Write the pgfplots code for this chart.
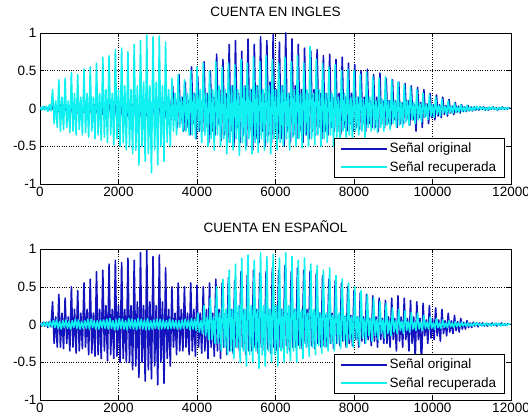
\documentclass[border=0pt]{standalone}
\usepackage{fontspec}
\setmainfont{Liberation Sans}
\usepackage{pgfplots}
\pgfplotsset{compat=1.18}

\definecolor{sblue}{RGB}{20,20,190}
\definecolor{scyan}{RGB}{15,240,240}

\pgfplotsset{
  matlab/.style={
    scale only axis, width=471bp, height=151bp,
    xmin=0, xmax=12000, ymin=-1, ymax=1,
    xtick={0,2000,4000,6000,8000,10000,12000},
    ytick={-1,-0.5,0,0.5,1},
    scaled x ticks=false,
    /pgf/number format/1000 sep={},
    /pgf/number format/assume math mode=true,
    tick align=inside, tick pos=both,
    xticklabel pos=lower, yticklabel pos=left,
    major tick length=4bp,
    grid=major, grid style={black, dotted, line width=0.5bp},
    axis line style={black, line width=0.6bp},
    tick style={black, line width=0.5bp},
    ticklabel style={font=\fontsize{13.5bp}{16bp}\selectfont},
    title style={font=\fontsize{13.5bp}{16bp}\selectfont, anchor=base, yshift=11bp},
    legend style={at={(1,0)}, anchor=south east, xshift=-6.5bp, yshift=6bp,
      font=\fontsize{13.5bp}{16bp}\selectfont, draw=black, line width=0.6bp,
      inner xsep=6bp, inner ysep=3bp, row sep=3bp},
    legend cell align=left,
    legend image code/.code={\draw[#1, line width=1.4bp] (0bp,0bp) -- (46bp,0bp);},
    every axis plot/.append style={line width=1.6bp, line join=round, mark=none},
  }
}

\begin{document}
\begin{tikzpicture}[x=1bp,y=1bp]
\useasboundingbox (0,0) rectangle (528,418);

% ---------- top: CUENTA EN INGLES ----------
\begin{axis}[matlab, at={(40bp,234bp)}, anchor=south west, title={CUENTA EN INGLES}]
\addplot[sblue] coordinates {
(20,0.01) (60,-0.01) (100,0.02) (140,-0.01)
(180,0.01) (220,-0.02) (260,0.01) (300,-0.01)
(340,0.04) (380,-0.05) (420,0.03) (460,-0.04)
(500,0.06) (540,-0.04) (580,0.05) (620,-0.05)
(660,0.05) (700,-0.06) (740,0.03) (780,-0.05)
(820,0.07) (860,-0.05) (900,0.04) (940,-0.06)
(980,0.06) (1020,-0.07) (1060,0.03) (1100,-0.05)
(1140,0.08) (1180,-0.06) (1220,0.04) (1260,-0.07)
(1300,0.07) (1340,-0.08) (1380,0.05) (1420,-0.06)
(1460,0.09) (1500,-0.07) (1540,0.04) (1580,-0.08)
(1620,0.08) (1660,-0.09) (1700,0.05) (1740,-0.07)
(1780,0.1) (1820,-0.08) (1860,0.04) (1900,-0.09)
(1940,0.09) (1980,-0.1) (2020,0.06) (2060,-0.08)
(2100,0.11) (2140,-0.09) (2180,0.05) (2220,-0.1)
(2260,0.1) (2300,-0.12) (2340,0.06) (2380,-0.09)
(2420,0.12) (2460,-0.1) (2500,0.05) (2540,-0.11)
(2580,0.11) (2620,-0.12) (2660,0.07) (2700,-0.1)
(2740,0.13) (2780,-0.11) (2820,0.06) (2860,-0.12)
(2900,0.12) (2940,-0.13) (2980,0.07) (3020,-0.1)
(3060,0.14) (3100,-0.12) (3140,0.08) (3180,-0.13)
(3220,0.18) (3260,-0.1) (3300,0.12) (3340,-0.15)
(3380,0.3) (3420,-0.15) (3460,0.1) (3500,-0.25)
(3540,0.45) (3580,-0.2) (3620,0.15) (3660,-0.3)
(3700,0.35) (3740,-0.25) (3780,0.1) (3820,-0.35)
(3860,0.55) (3900,-0.2) (3940,0.2) (3980,-0.4)
(4020,0.42) (4060,-0.3) (4100,0.1) (4140,-0.3)
(4180,0.62) (4220,-0.25) (4260,0.2) (4300,-0.45)
(4340,0.5) (4380,-0.3) (4420,0.15) (4460,-0.35)
(4500,0.72) (4540,-0.2) (4580,0.25) (4620,-0.42)
(4660,0.65) (4700,-0.35) (4740,0.2) (4780,-0.45)
(4820,0.85) (4860,-0.3) (4900,0.3) (4940,-0.5)
(4980,0.9) (5020,-0.25) (5060,0.2) (5100,-0.45)
(5140,0.76) (5180,-0.35) (5220,0.3) (5260,-0.5)
(5300,0.92) (5340,-0.3) (5380,0.25) (5420,-0.55)
(5460,0.85) (5500,-0.4) (5540,0.3) (5580,-0.45)
(5620,0.95) (5660,-0.3) (5700,0.2) (5740,-0.5)
(5780,0.9) (5820,-0.35) (5860,0.35) (5900,-0.45)
(5940,0.98) (5980,-0.3) (6020,0.25) (6060,-0.4)
(6100,0.88) (6140,-0.4) (6180,0.3) (6220,-0.5)
(6260,1.0) (6300,-0.3) (6340,0.2) (6380,-0.45)
(6420,0.92) (6460,-0.35) (6500,0.3) (6540,-0.4)
(6580,0.85) (6620,-0.3) (6660,0.25) (6700,-0.45)
(6740,0.8) (6780,-0.35) (6820,0.2) (6860,-0.4)
(6900,0.76) (6940,-0.3) (6980,0.25) (7020,-0.35)
(7060,0.78) (7100,-0.25) (7140,0.2) (7180,-0.4)
(7220,0.7) (7260,-0.3) (7300,0.2) (7340,-0.35)
(7380,0.72) (7420,-0.25) (7460,0.15) (7500,-0.3)
(7540,0.65) (7580,-0.3) (7620,0.2) (7660,-0.35)
(7700,0.68) (7740,-0.25) (7780,0.15) (7820,-0.3)
(7860,0.6) (7900,-0.2) (7940,0.2) (7980,-0.3)
(8020,0.58) (8060,-0.25) (8100,0.15) (8140,-0.28)
(8180,0.5) (8220,-0.2) (8260,0.15) (8300,-0.3)
(8340,0.52) (8380,-0.2) (8420,0.1) (8460,-0.25)
(8500,0.45) (8540,-0.25) (8580,0.15) (8620,-0.3)
(8660,0.47) (8700,-0.2) (8740,0.1) (8780,-0.25)
(8820,0.4) (8860,-0.2) (8900,0.1) (8940,-0.22)
(8980,0.38) (9020,-0.15) (9060,0.1) (9100,-0.25)
(9140,0.35) (9180,-0.2) (9220,0.08) (9260,-0.2)
(9300,0.33) (9340,-0.15) (9380,0.1) (9420,-0.22)
(9460,0.3) (9500,-0.15) (9540,0.05) (9580,-0.3)
(9620,0.28) (9660,-0.12) (9700,0.08) (9740,-0.25)
(9780,0.25) (9820,-0.1) (9860,0.06) (9900,-0.2)
(9940,0.2) (9980,-0.12) (10020,0.05) (10060,-0.15)
(10100,0.18) (10140,-0.1) (10180,0.05) (10220,-0.12)
(10260,0.15) (10300,-0.08) (10340,0.04) (10380,-0.1)
(10420,0.12) (10460,-0.06) (10500,0.03) (10540,-0.08)
(10580,0.08) (10620,-0.05) (10660,0.03) (10700,-0.06)
(10740,0.05) (10780,-0.04) (10820,0.02) (10860,-0.04)
(10900,0.04) (10940,-0.03) (10980,0.02) (11020,-0.03)
(11060,0.02) (11100,-0.02) (11140,0.01) (11180,-0.02)
(11220,0.02) (11260,-0.01) (11300,0.02) (11340,-0.02)
(11380,0.01) (11420,-0.02) (11460,0.01) (11500,-0.01)
(11540,0.02) (11580,-0.01) (11620,0.01) (11660,-0.02)
(11700,0.01) (11740,-0.01) (11780,0.02) (11820,-0.01)
(11860,0.01) (11900,-0.01) (11940,0.01) (11980,0)
};
\addplot[scyan] coordinates {
(0,0.02) (40,-0.02) (80,0.03) (120,-0.02)
(160,0.03) (200,-0.04) (240,0.05) (280,-0.03)
(320,0.25) (360,-0.2) (400,0.1) (440,-0.25)
(480,0.38) (520,-0.3) (560,0.15) (600,-0.28)
(640,0.4) (680,-0.25) (720,0.1) (760,-0.32)
(800,0.48) (840,-0.3) (880,0.2) (920,-0.35)
(960,0.45) (1000,-0.28) (1040,0.15) (1080,-0.35)
(1120,0.52) (1160,-0.32) (1200,0.2) (1240,-0.38)
(1280,0.55) (1320,-0.3) (1360,0.15) (1400,-0.4)
(1440,0.6) (1480,-0.35) (1520,0.2) (1560,-0.42)
(1600,0.68) (1640,-0.38) (1680,0.25) (1720,-0.45)
(1760,0.7) (1800,-0.35) (1840,0.2) (1880,-0.48)
(1920,0.78) (1960,-0.4) (2000,0.25) (2040,-0.5)
(2080,0.8) (2120,-0.45) (2160,0.3) (2200,-0.55)
(2240,0.75) (2280,-0.5) (2320,0.25) (2360,-0.6)
(2400,0.85) (2440,-0.55) (2480,0.3) (2520,-0.75)
(2560,0.9) (2600,-0.5) (2640,0.35) (2680,-0.7)
(2720,0.97) (2760,-0.6) (2800,0.3) (2840,-0.85)
(2880,0.95) (2920,-0.55) (2960,0.35) (3000,-0.75)
(3040,0.96) (3080,-0.5) (3120,0.3) (3160,-0.7)
(3200,0.88) (3240,-0.45) (3280,0.25) (3320,-0.5)
(3360,0.4) (3400,-0.3) (3440,0.2) (3480,-0.35)
(3520,0.45) (3560,-0.25) (3600,0.15) (3640,-0.3)
(3680,0.38) (3720,-0.3) (3760,0.2) (3800,-0.35)
(3840,0.5) (3880,-0.35) (3920,0.2) (3960,-0.4)
(4000,0.55) (4040,-0.3) (4080,0.25) (4120,-0.45)
(4160,0.6) (4200,-0.35) (4240,0.2) (4280,-0.5)
(4320,0.5) (4360,-0.4) (4400,0.25) (4440,-0.55)
(4480,0.62) (4520,-0.35) (4560,0.3) (4600,-0.5)
(4640,0.55) (4680,-0.4) (4720,0.25) (4760,-0.6)
(4800,0.6) (4840,-0.45) (4880,0.3) (4920,-0.55)
(4960,0.58) (5000,-0.4) (5040,0.25) (5080,-0.62)
(5120,0.65) (5160,-0.45) (5200,0.3) (5240,-0.55)
(5280,0.6) (5320,-0.4) (5360,0.25) (5400,-0.6)
(5440,0.68) (5480,-0.45) (5520,0.3) (5560,-0.58)
(5600,0.62) (5640,-0.4) (5680,0.25) (5720,-0.55)
(5760,0.7) (5800,-0.45) (5840,0.3) (5880,-0.6)
(5920,0.65) (5960,-0.4) (6000,0.25) (6040,-0.55)
(6080,0.6) (6120,-0.45) (6160,0.3) (6200,-0.5)
(6240,0.68) (6280,-0.4) (6320,0.2) (6360,-0.55)
(6400,0.62) (6440,-0.38) (6480,0.25) (6520,-0.5)
(6560,0.7) (6600,-0.4) (6640,0.2) (6680,-0.52)
(6720,0.6) (6760,-0.35) (6800,0.25) (6840,-0.5)
(6880,0.82) (6920,-0.4) (6960,0.2) (7000,-0.48)
(7040,0.65) (7080,-0.35) (7120,0.25) (7160,-0.5)
(7200,0.6) (7240,-0.4) (7280,0.2) (7320,-0.45)
(7360,0.55) (7400,-0.35) (7440,0.2) (7480,-0.5)
(7520,0.58) (7560,-0.38) (7600,0.15) (7640,-0.45)
(7680,0.5) (7720,-0.3) (7760,0.2) (7800,-0.4)
(7840,0.52) (7880,-0.35) (7920,0.15) (7960,-0.42)
(8000,0.5) (8040,-0.3) (8080,0.15) (8120,-0.35)
(8160,0.45) (8200,-0.3) (8240,0.12) (8280,-0.38)
(8320,0.48) (8360,-0.25) (8400,0.15) (8440,-0.3)
(8480,0.42) (8520,-0.28) (8560,0.1) (8600,-0.32)
(8640,0.4) (8680,-0.25) (8720,0.12) (8760,-0.3)
(8800,0.42) (8840,-0.22) (8880,0.1) (8920,-0.28)
(8960,0.38) (9000,-0.2) (9040,0.1) (9080,-0.25)
(9120,0.35) (9160,-0.22) (9200,0.08) (9240,-0.25)
(9280,0.32) (9320,-0.18) (9360,0.1) (9400,-0.22)
(9440,0.28) (9480,-0.15) (9520,0.08) (9560,-0.2)
(9600,0.25) (9640,-0.15) (9680,0.06) (9720,-0.18)
(9760,0.2) (9800,-0.12) (9840,0.05) (9880,-0.15)
(9920,0.18) (9960,-0.1) (10000,0.05) (10040,-0.12)
(10080,0.15) (10120,-0.08) (10160,0.04) (10200,-0.1)
(10240,0.12) (10280,-0.06) (10320,0.03) (10360,-0.08)
(10400,0.1) (10440,-0.06) (10480,0.03) (10520,-0.06)
(10560,0.07) (10600,-0.05) (10640,0.02) (10680,-0.05)
(10720,0.05) (10760,-0.04) (10800,0.02) (10840,-0.04)
(10880,0.04) (10920,-0.03) (10960,0.02) (11000,-0.03)
(11040,0.02) (11080,-0.02) (11120,0.03) (11160,-0.01)
(11200,0.02) (11240,-0.01) (11280,0.02) (11320,-0.02)
(11360,0.01) (11400,-0.02) (11440,0.02) (11480,-0.01)
(11520,0.02) (11560,-0.01) (11600,0.01) (11640,-0.02)
(11680,0.01) (11720,-0.01) (11760,0.02) (11800,-0.01)
(11840,0.01) (11880,-0.01) (11920,0.01) (11960,0)
};
\legend{Señal original, Señal recuperada}
\end{axis}

% ---------- bottom: CUENTA EN ESPAÑOL ----------
\begin{axis}[matlab, at={(40bp,18bp)}, anchor=south west, title={CUENTA EN ESPAÑOL}]
\addplot[sblue] coordinates {
(0,0.02) (40,-0.02) (80,0.03) (120,-0.02)
(160,0.03) (200,-0.04) (240,0.04) (280,-0.03)
(320,0.3) (360,-0.25) (400,0.1) (440,-0.3)
(480,0.4) (520,-0.3) (560,0.15) (600,-0.32)
(640,0.35) (680,-0.25) (720,0.1) (760,-0.35)
(800,0.5) (840,-0.3) (880,0.2) (920,-0.38)
(960,0.45) (1000,-0.35) (1040,0.15) (1080,-0.32)
(1120,0.55) (1160,-0.3) (1200,0.2) (1240,-0.4)
(1280,0.6) (1320,-0.38) (1360,0.15) (1400,-0.42)
(1440,0.7) (1480,-0.4) (1520,0.2) (1560,-0.45)
(1600,0.72) (1640,-0.35) (1680,0.25) (1720,-0.48)
(1760,0.8) (1800,-0.4) (1840,0.2) (1880,-0.45)
(1920,0.85) (1960,-0.42) (2000,0.25) (2040,-0.5)
(2080,0.82) (2120,-0.45) (2160,0.2) (2200,-0.5)
(2240,0.88) (2280,-0.5) (2320,0.25) (2360,-0.6)
(2400,0.85) (2440,-0.55) (2480,0.3) (2520,-0.7)
(2560,0.95) (2600,-0.5) (2640,0.25) (2680,-0.75)
(2720,0.98) (2760,-0.6) (2800,0.3) (2840,-0.72)
(2880,0.9) (2920,-0.55) (2960,0.25) (3000,-0.8)
(3040,0.92) (3080,-0.5) (3120,0.3) (3160,-0.78)
(3200,0.75) (3240,-0.45) (3280,0.2) (3320,-0.55)
(3360,0.5) (3400,-0.3) (3440,0.15) (3480,-0.4)
(3520,0.55) (3560,-0.35) (3600,0.2) (3640,-0.35)
(3680,0.5) (3720,-0.3) (3760,0.15) (3800,-0.4)
(3840,0.55) (3880,-0.35) (3920,0.2) (3960,-0.42)
(4000,0.52) (4040,-0.3) (4080,0.15) (4120,-0.38)
(4160,0.5) (4200,-0.35) (4240,0.2) (4280,-0.45)
(4320,0.55) (4360,-0.3) (4400,0.15) (4440,-0.42)
(4480,0.6) (4520,-0.35) (4560,0.2) (4600,-0.45)
(4640,0.55) (4680,-0.3) (4720,0.15) (4760,-0.4)
(4800,0.62) (4840,-0.35) (4880,0.2) (4920,-0.38)
(4960,0.58) (5000,-0.3) (5040,0.15) (5080,-0.35)
(5120,0.7) (5160,-0.3) (5200,0.2) (5240,-0.4)
(5280,0.65) (5320,-0.35) (5360,0.15) (5400,-0.35)
(5440,0.72) (5480,-0.3) (5520,0.2) (5560,-0.38)
(5600,0.68) (5640,-0.3) (5680,0.15) (5720,-0.35)
(5760,0.7) (5800,-0.32) (5840,0.2) (5880,-0.38)
(5920,0.75) (5960,-0.3) (6000,0.15) (6040,-0.35)
(6080,0.72) (6120,-0.3) (6160,0.2) (6200,-0.32)
(6240,0.78) (6280,-0.28) (6320,0.15) (6360,-0.35)
(6400,0.7) (6440,-0.3) (6480,0.2) (6520,-0.3)
(6560,0.75) (6600,-0.28) (6640,0.15) (6680,-0.32)
(6720,0.72) (6760,-0.25) (6800,0.2) (6840,-0.3)
(6880,0.7) (6920,-0.28) (6960,0.15) (7000,-0.32)
(7040,0.68) (7080,-0.25) (7120,0.15) (7160,-0.3)
(7200,0.65) (7240,-0.28) (7280,0.12) (7320,-0.3)
(7360,0.6) (7400,-0.25) (7440,0.15) (7480,-0.32)
(7520,0.58) (7560,-0.25) (7600,0.12) (7640,-0.28)
(7680,0.55) (7720,-0.22) (7760,0.1) (7800,-0.3)
(7840,0.5) (7880,-0.25) (7920,0.12) (7960,-0.28)
(8000,0.45) (8040,-0.2) (8080,0.1) (8120,-0.3)
(8160,0.42) (8200,-0.22) (8240,0.1) (8280,-0.25)
(8320,0.4) (8360,-0.2) (8400,0.08) (8440,-0.28)
(8480,0.38) (8520,-0.22) (8560,0.1) (8600,-0.3)
(8640,0.35) (8680,-0.2) (8720,0.08) (8760,-0.25)
(8800,0.32) (8840,-0.25) (8880,0.1) (8920,-0.3)
(8960,0.35) (9000,-0.2) (9040,0.08) (9080,-0.35)
(9120,0.38) (9160,-0.22) (9200,0.1) (9240,-0.3)
(9280,0.35) (9320,-0.2) (9360,0.08) (9400,-0.35)
(9440,0.32) (9480,-0.25) (9520,0.1) (9560,-0.45)
(9600,0.3) (9640,-0.2) (9680,0.08) (9720,-0.55)
(9760,0.28) (9800,-0.15) (9840,0.06) (9880,-0.25)
(9920,0.25) (9960,-0.18) (10000,0.08) (10040,-0.2)
(10080,0.22) (10120,-0.15) (10160,0.06) (10200,-0.22)
(10240,0.2) (10280,-0.12) (10320,0.05) (10360,-0.15)
(10400,0.15) (10440,-0.1) (10480,0.05) (10520,-0.12)
(10560,0.12) (10600,-0.08) (10640,0.04) (10680,-0.1)
(10720,0.08) (10760,-0.06) (10800,0.03) (10840,-0.06)
(10880,0.05) (10920,-0.04) (10960,0.02) (11000,-0.04)
(11040,0.03) (11080,-0.02) (11120,0.02) (11160,-0.03)
(11200,0.02) (11240,-0.01) (11280,0.02) (11320,-0.02)
(11360,0.01) (11400,-0.02) (11440,0.01) (11480,-0.01)
(11520,0.02) (11560,-0.01) (11600,0.01) (11640,-0.02)
(11680,0.01) (11720,-0.01) (11760,0.02) (11800,-0.01)
(11840,0.01) (11880,-0.01) (11920,0.01) (11960,0)
};
\addplot[scyan] coordinates {
(20,0.02) (60,-0.02) (100,0.03) (140,-0.02)
(180,0.03) (220,-0.03) (260,0.04) (300,-0.03)
(340,0.05) (380,-0.04) (420,0.06) (460,-0.05)
(500,0.04) (540,-0.06) (580,0.05) (620,-0.04)
(660,0.06) (700,-0.05) (740,0.04) (780,-0.06)
(820,0.05) (860,-0.04) (900,0.07) (940,-0.05)
(980,0.06) (1020,-0.06) (1060,0.04) (1100,-0.05)
(1140,0.05) (1180,-0.05) (1220,0.07) (1260,-0.06)
(1300,0.07) (1340,-0.04) (1380,0.05) (1420,-0.06)
(1460,0.05) (1500,-0.06) (1540,0.06) (1580,-0.04)
(1620,0.06) (1660,-0.05) (1700,0.07) (1740,-0.06)
(1780,0.08) (1820,-0.05) (1860,0.05) (1900,-0.07)
(1940,0.06) (1980,-0.07) (2020,0.08) (2060,-0.05)
(2100,0.07) (2140,-0.06) (2180,0.05) (2220,-0.07)
(2260,0.08) (2300,-0.05) (2340,0.07) (2380,-0.06)
(2420,0.06) (2460,-0.07) (2500,0.08) (2540,-0.05)
(2580,0.07) (2620,-0.06) (2660,0.06) (2700,-0.07)
(2740,0.08) (2780,-0.07) (2820,0.05) (2860,-0.06)
(2900,0.06) (2940,-0.05) (2980,0.07) (3020,-0.06)
(3060,0.07) (3100,-0.06) (3140,0.06) (3180,-0.05)
(3220,0.05) (3260,-0.06) (3300,0.07) (3340,-0.05)
(3380,0.06) (3420,-0.05) (3460,0.05) (3500,-0.06)
(3540,0.05) (3580,-0.06) (3620,0.06) (3660,-0.05)
(3700,0.07) (3740,-0.05) (3780,0.06) (3820,-0.07)
(3860,0.08) (3900,-0.06) (3940,0.07) (3980,-0.08)
(4020,0.15) (4060,-0.1) (4100,0.05) (4140,-0.12)
(4180,0.25) (4220,-0.15) (4260,0.1) (4300,-0.2)
(4340,0.35) (4380,-0.2) (4420,0.1) (4460,-0.25)
(4500,0.5) (4540,-0.25) (4580,0.15) (4620,-0.35)
(4660,0.6) (4700,-0.3) (4740,0.2) (4780,-0.4)
(4820,0.72) (4860,-0.35) (4900,0.2) (4940,-0.45)
(4980,0.8) (5020,-0.3) (5060,0.25) (5100,-0.5)
(5140,0.88) (5180,-0.35) (5220,0.2) (5260,-0.55)
(5300,0.92) (5340,-0.4) (5380,0.25) (5420,-0.5)
(5460,0.85) (5500,-0.35) (5540,0.2) (5580,-0.58)
(5620,0.95) (5660,-0.4) (5700,0.25) (5740,-0.55)
(5780,0.9) (5820,-0.35) (5860,0.2) (5900,-0.5)
(5940,0.93) (5980,-0.4) (6020,0.25) (6060,-0.55)
(6100,0.88) (6140,-0.35) (6180,0.2) (6220,-0.5)
(6260,0.95) (6300,-0.38) (6340,0.25) (6380,-0.48)
(6420,0.9) (6460,-0.35) (6500,0.2) (6540,-0.5)
(6580,0.85) (6620,-0.32) (6660,0.2) (6700,-0.45)
(6740,0.88) (6780,-0.3) (6820,0.15) (6860,-0.42)
(6900,0.8) (6940,-0.3) (6980,0.2) (7020,-0.4)
(7060,0.78) (7100,-0.28) (7140,0.15) (7180,-0.38)
(7220,0.72) (7260,-0.3) (7300,0.15) (7340,-0.35)
(7380,0.75) (7420,-0.25) (7460,0.12) (7500,-0.35)
(7540,0.65) (7580,-0.25) (7620,0.15) (7660,-0.32)
(7700,0.6) (7740,-0.22) (7780,0.12) (7820,-0.3)
(7860,0.55) (7900,-0.2) (7940,0.1) (7980,-0.3)
(8020,0.5) (8060,-0.2) (8100,0.1) (8140,-0.28)
(8180,0.45) (8220,-0.18) (8260,0.08) (8300,-0.25)
(8340,0.4) (8380,-0.15) (8420,0.08) (8460,-0.22)
(8500,0.35) (8540,-0.15) (8580,0.06) (8620,-0.2)
(8660,0.3) (8700,-0.12) (8740,0.06) (8780,-0.18)
(8820,0.28) (8860,-0.12) (8900,0.05) (8940,-0.15)
(8980,0.22) (9020,-0.1) (9060,0.05) (9100,-0.12)
(9140,0.2) (9180,-0.08) (9220,0.04) (9260,-0.12)
(9300,0.18) (9340,-0.08) (9380,0.04) (9420,-0.1)
(9460,0.16) (9500,-0.06) (9540,0.03) (9580,-0.08)
(9620,0.15) (9660,-0.06) (9700,0.03) (9740,-0.08)
(9780,0.12) (9820,-0.05) (9860,0.03) (9900,-0.06)
(9940,0.1) (9980,-0.05) (10020,0.02) (10060,-0.06)
(10100,0.08) (10140,-0.04) (10180,0.02) (10220,-0.05)
(10260,0.06) (10300,-0.04) (10340,0.02) (10380,-0.04)
(10420,0.05) (10460,-0.03) (10500,0.02) (10540,-0.04)
(10580,0.04) (10620,-0.03) (10660,0.02) (10700,-0.03)
(10740,0.03) (10780,-0.02) (10820,0.02) (10860,-0.02)
(10900,0.02) (10940,-0.02) (10980,0.01) (11020,-0.02)
(11060,0.02) (11100,-0.01) (11140,0.02) (11180,-0.01)
(11220,0.01) (11260,-0.02) (11300,0.01) (11340,-0.01)
(11380,0.02) (11420,-0.01) (11460,0.01) (11500,-0.02)
(11540,0.01) (11580,-0.01) (11620,0.02) (11660,-0.01)
(11700,0.01) (11740,-0.02) (11780,0.01) (11820,-0.01)
(11860,0.01) (11900,-0.01) (11940,0.01) (11980,0)
};
\legend{Señal original, Señal recuperada}
\end{axis}
\end{tikzpicture}
\end{document}
